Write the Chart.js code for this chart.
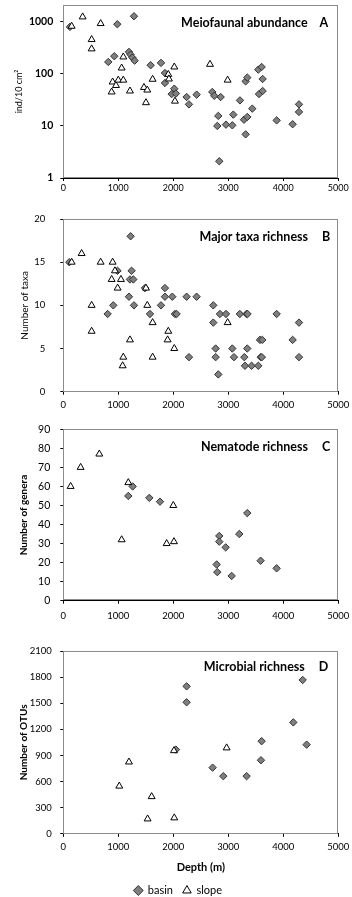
<!DOCTYPE html>
<html><head><meta charset="utf-8">
<script src="https://cdn.jsdelivr.net/npm/chart.js@4.4.0/dist/chart.umd.min.js"></script>
<style>
html,body{margin:0;padding:0;background:#fff;overflow:hidden;width:352px;height:897px;}
canvas{position:absolute;left:0;}
</style></head><body>
<canvas id="cA" width="352" height="200" style="top:0px"></canvas>
<canvas id="cB" width="352" height="210" style="top:200px"></canvas>
<canvas id="cC" width="352" height="210" style="top:410px"></canvas>
<canvas id="cD" width="352" height="276" style="top:630px"></canvas>
<script>
// ---- data ----
const depthTicks = [0, 1000, 2000, 3000, 4000, 5000];

// A: Meiofaunal abundance (ind/10 cm2)
const abundTicks = [1, 10, 100, 1000];
const abundSlopeDepth = [152, 352, 679, 515, 515, 1091, 1061, 897, 879, 958, 1000, 1091, 1212, 1467, 1527, 1503, 1624, 1909, 1921, 2018, 2030, 2667, 2988];
const abundSlopeVal   = [825, 1248, 929, 458, 303, 212, 130, 70, 45, 60, 76, 76, 47, 55, 49, 28, 79, 98, 80, 136, 30, 153, 76];
const abundBasinDepth = [121, 1285, 982, 818, 927, 1194, 1224, 1255, 1297, 1588, 1776, 1848, 1848, 2018, 1970, 2048, 2242, 2285, 2424, 2709, 2745, 2861, 2818, 2800, 2836, 2958, 3073, 3091, 3212, 3285, 3345, 3315, 3436, 3315, 3345, 3545, 3606, 3624, 3558, 3624, 3879, 4170, 4285, 4285];
const abundBasinVal   = [801, 1285, 902, 170, 219, 265, 235, 206, 180, 147, 163, 104, 67, 52, 41, 42, 36, 26, 40, 45, 38, 36, 15.6, 10, 2.1, 10.6, 10.3, 16.5, 31, 13.2, 14.9, 6.9, 21.5, 72, 85, 121, 136, 80, 41, 47, 12.8, 10.8, 26, 18.6];

// B: Major taxa richness
const taxaTicks = [0, 5, 10, 15, 20];
const taxaSlopeDepth = [152, 333, 679, 897, 939, 879, 1048, 988, 515, 515, 1212, 1091, 1079, 1527, 1503, 1624, 1624, 1909, 1897, 2018, 2988];
const taxaSlopeVal   = [15, 16, 15, 15, 14, 13, 13, 12, 10, 7, 6, 4, 3, 10, 12, 8, 4, 7, 6, 5, 8];
const taxaBasinDepth = [109, 1224, 1242, 1212, 1273, 985, 1194, 909, 806, 1285, 1576, 1485, 1776, 1848, 1848, 1982, 2030, 2060, 2242, 2424, 2285, 2727, 2727, 2848, 2958, 3210, 3330, 3350, 3879, 4285, 2770, 2770, 2818, 3073, 3103, 3291, 3345, 3303, 3424, 3545, 3576, 3618, 3590, 3610, 4170, 4285];
const taxaBasinVal   = [15, 18, 14, 13, 13, 14, 11, 10, 9, 10, 9, 12, 10, 12, 11, 11, 9, 9, 11, 11, 4, 10, 8, 9, 9, 9, 9, 9, 9, 8, 5, 4, 2, 5, 4, 4, 5, 3, 3, 3, 6, 6, 4, 4, 6, 4];

// C: Nematode richness
const nemaTicks = [0, 10, 20, 30, 40, 50, 60, 70, 80, 90];
const nemaSlopeDepth = [133, 315, 655, 1182, 1061, 2000, 1879, 2012];
const nemaSlopeVal   = [60, 70, 77, 62, 32, 50, 30, 31];
const nemaBasinDepth = [1261, 1182, 1564, 1758, 2788, 2800, 2836, 2836, 2952, 3061, 3200, 3345, 3588, 3879];
const nemaBasinVal   = [60, 55, 54, 52, 19, 15, 34, 31, 28, 13, 35, 46, 21, 17];

// D: Microbial richness
const otuTicks = [0, 300, 600, 900, 1200, 1500, 1800, 2100];
const otuSlopeDepth = [1018, 1194, 1606, 1533, 2012, 2018, 2970];
const otuSlopeVal   = [548, 825, 427, 171, 955, 183, 987];
const otuBasinDepth = [2048, 2242, 2242, 2715, 2909, 3333, 3594, 3606, 4182, 4352, 4424];
const otuBasinVal   = [967, 1694, 1511, 760, 662, 662, 845, 1064, 1280, 1767, 1024];

const seriesNames = ['basin', 'slope'];

// ---- rendering ----
const FONT = 'Lato, "Open Sans", sans-serif';
const pts = (xs, ys) => xs.map((x, i) => ({x: x, y: ys[i]}));

const boxPlugin = {
  id: 'box',
  beforeDatasetsDraw(chart) {
    const a = chart.chartArea, ctx = chart.ctx;
    ctx.save();
    ctx.strokeStyle = '#8c8c8c';
    ctx.lineWidth = 1;
    ctx.strokeRect(Math.round(a.left) + 0.5, Math.round(a.top) + 0.5, Math.round(a.right - a.left) - 1, Math.round(a.bottom - a.top) - 1);
    ctx.restore();
  }
};
const titlePlugin = {
  id: 'ptitle',
  afterDatasetsDraw(chart, args, o) {
    const a = chart.chartArea, ctx = chart.ctx;
    ctx.save();
    ctx.fillStyle = '#000';
    ctx.font = 'bold ' + o.size + 'px ' + FONT;
    ctx.textBaseline = 'middle';
    ctx.textAlign = 'right';
    const xr = a.right - o.dx;
    ctx.fillText(o.letter, xr, a.top + o.dy);
    const lw = ctx.measureText(o.letter).width;
    ctx.fillText(o.text, xr - lw - o.gap, a.top + o.dy);
    ctx.restore();
  }
};

function makeChart(id, p) {
  const ds = [
    {label: seriesNames[1], data: pts(p.sd, p.sv), pointStyle: 'triangle', radius: 4, pointRadius: 4,
     backgroundColor: '#ffffff', borderColor: '#000000', borderWidth: 1},
    {label: seriesNames[0], data: pts(p.bd, p.bv), pointStyle: 'rectRot', radius: 3.7, pointRadius: 3.7,
     backgroundColor: '#7f7f7f', borderColor: '#333333', borderWidth: 1}
  ];
  return new Chart(document.getElementById(id), {
    type: 'scatter',
    data: {datasets: ds},
    plugins: [boxPlugin, titlePlugin],
    options: {
      responsive: false, animation: false, devicePixelRatio: 1,
      layout: {padding: {top: p.padTop, left: p.padLeft, right: 13.7, bottom: 0}},
      plugins: {
        tooltip: {enabled: false},
        ptitle: p.title,
        legend: p.legend ? {
          display: true, position: 'bottom', reverse: true,
          labels: {usePointStyle: true, boxWidth: 8, boxHeight: 7, padding: 10, color: '#000',
                   font: {family: FONT, size: 11}}
        } : {display: false}
      },
      scales: {
        x: {
          type: 'linear', min: 0, max: 5000,
          afterBuildTicks: s => { s.ticks = depthTicks.map(v => ({value: v})); },
          afterFit: s => { s.height = p.xH; s.paddingLeft = 0; s.paddingRight = 0; },
          ticks: {font: {family: FONT, size: p.xFont}, color: '#000', padding: p.xPad, maxRotation: 0, autoSkip: false,
                  callback: v => String(v)},
          grid: {drawOnChartArea: false, drawTicks: true, tickLength: 3, color: '#000'},
          border: {display: true, color: '#000', width: 1},
          title: p.xTitle ? {display: true, text: p.xTitle, color: '#000',
                 font: {family: FONT, size: 11, weight: 'bold'}, padding: {top: 0, bottom: p.xTitlePad}} : {display: false}
        },
        y: {
          type: p.yType, min: p.yMin, max: p.yMax,
          afterBuildTicks: s => { s.ticks = p.yTicks.map(v => ({value: v})); },
          afterFit: s => { s.width = p.yW; s.paddingTop = 0; s.paddingBottom = 0; },
          ticks: {font: {family: FONT, size: p.yFont, weight: p.yBold ? 'bold' : 'normal'}, color: '#000', padding: p.yPad,
                  callback: v => String(v), autoSkip: false},
          grid: {drawOnChartArea: false, drawTicks: true, tickLength: 3, color: '#000'},
          border: {display: true, color: '#000', width: 1},
          title: {display: true, text: p.yTitle, color: '#000',
                  font: {family: FONT, size: p.yTitleSize, weight: p.yTitleBold ? 'bold' : 'normal'},
                  padding: {top: p.yTitlePad, bottom: 0}}
        }
      }
    }
  });
}

makeChart('cA', {
  sd: abundSlopeDepth, sv: abundSlopeVal, bd: abundBasinDepth, bv: abundBasinVal,
  yType: 'logarithmic', yMin: 1, yMax: 2113, yTicks: abundTicks,
  padTop: 4, padLeft: 0, yW: 63.3, xH: 22, xFont: 9, xPad: 1.5, yFont: 10.5, yBold: true, yPad: 7,
  yTitle: 'ind/10 cm²', yTitleSize: 9, yTitleBold: false, yTitlePad: 14,
  title: {text: 'Meiofaunal abundance', letter: 'A', size: 12.5, dx: 10, dy: 17.5, gap: 12}
});
makeChart('cB', {
  sd: taxaSlopeDepth, sv: taxaSlopeVal, bd: taxaBasinDepth, bv: taxaBasinVal,
  yType: 'linear', yMin: 0, yMax: 20, yTicks: taxaTicks,
  padTop: 19, padLeft: 0, yW: 63.3, xH: 18.3, xFont: 9.5, xPad: 5, yFont: 9.5, yBold: false, yPad: 15,
  yTitle: 'Number of taxa', yTitleSize: 10, yTitleBold: false, yTitlePad: 19,
  title: {text: 'Major taxa richness', letter: 'B', size: 12.5, dx: 8, dy: 17.7, gap: 14}
});
makeChart('cC', {
  sd: nemaSlopeDepth, sv: nemaSlopeVal, bd: nemaBasinDepth, bv: nemaBasinVal,
  yType: 'linear', yMin: 0, yMax: 90, yTicks: nemaTicks,
  padTop: 19.3, padLeft: 0, yW: 63.3, xH: 19.3, xFont: 9.5, xPad: 6.5, yFont: 10.5, yBold: false, yPad: 10,
  yTitle: 'Number of genera', yTitleSize: 10, yTitleBold: true, yTitlePad: 18,
  title: {text: 'Nematode richness', letter: 'C', size: 12.5, dx: 8, dy: 17.4, gap: 14}
});
makeChart('cD', {
  sd: otuSlopeDepth, sv: otuSlopeVal, bd: otuBasinDepth, bv: otuBasinVal,
  yType: 'linear', yMin: 0, yMax: 2100, yTicks: otuTicks,
  padTop: 21, padLeft: 18, yW: 45.3, xH: 41.2, xFont: 9.5, xPad: 4.5, yFont: 9.5, yBold: false, yPad: 8.6,
  yTitle: 'Number of OTUs', yTitleSize: 10, yTitleBold: true, yTitlePad: 0,
  xTitle: 'Depth (m)', xTitlePad: 0.5,
  title: {text: 'Microbial richness', letter: 'D', size: 12.5, dx: 10, dy: 16, gap: 14},
  legend: true
});
</script>
</body></html>
